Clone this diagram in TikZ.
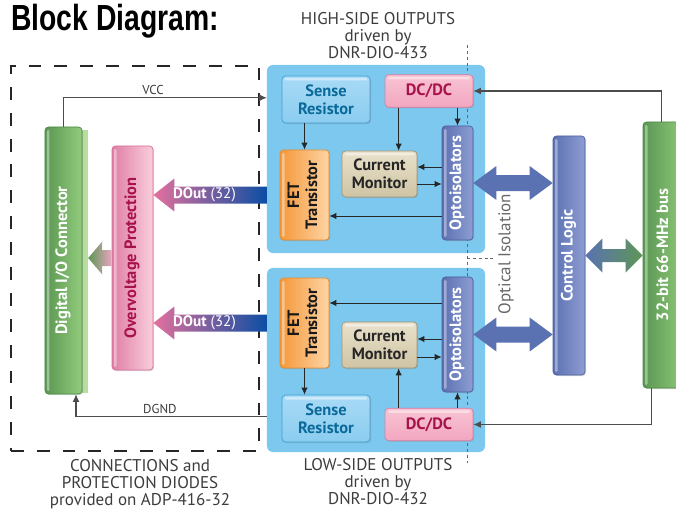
\documentclass[tikz,border=0pt]{standalone}
\usepackage{fontspec}
\setmainfont{PT Sans}
\newfontfamily\titlefont[FakeStretch=0.78]{Liberation Sans}
\usetikzlibrary{arrows.meta,calc,shadows}

\definecolor{panelblue}{HTML}{7CC8EE}
\definecolor{sensetop}{HTML}{A8DBF6}
\definecolor{sensebot}{HTML}{8BCCEF}
\definecolor{senseedge}{HTML}{3E9FD6}
\definecolor{sensetext}{HTML}{0A6A9A}
\definecolor{dctop}{HTML}{F8C4D4}
\definecolor{dcbot}{HTML}{F2A6BF}
\definecolor{dcedge}{HTML}{DD7C9E}
\definecolor{crimson}{HTML}{A8124A}
\definecolor{fetleft}{HTML}{F5983A}
\definecolor{fetright}{HTML}{FDD4A4}
\definecolor{fetedge}{HTML}{E48B2F}
\definecolor{cmtop}{HTML}{E9E1CB}
\definecolor{cmbot}{HTML}{CFC4A4}
\definecolor{cmedge}{HTML}{9F9475}
\definecolor{optoleft}{HTML}{5C70B2}
\definecolor{optoright}{HTML}{8E9ED2}
\definecolor{optoedge}{HTML}{4B5F9F}
\definecolor{busleft}{HTML}{5A9752}
\definecolor{busright}{HTML}{92CB7C}
\definecolor{busedge}{HTML}{4E8A48}
\definecolor{stripgreen}{HTML}{B7DE9E}
\definecolor{ovpleft}{HTML}{E07FA6}
\definecolor{ovpright}{HTML}{F9CEDC}
\definecolor{ovpedge}{HTML}{D77098}
\definecolor{fatblue}{HTML}{5A72B2}
\definecolor{fatgreen}{HTML}{5E9656}
\definecolor{doutpink}{HTML}{E4709D}
\definecolor{doutblue}{HTML}{0B4EA3}
\definecolor{labelgray}{HTML}{3C3C3C}

% block arrows: tip on the left
\newcommand{\fatarrow}[7]{%
  \shade[left color=#6, right color=#7] (#1) -- ($(#1)+(#3,-#4)$) -- ($(#1)+(#3,-#5)$)
    -- ($(#2)+(0,-#5)$) -- ($(#2)+(0,#5)$) -- ($(#1)+(#3,#5)$) -- ($(#1)+(#3,#4)$) -- cycle;}
% block arrows with two tips
\newcommand{\dblarrow}[7]{%
  \shade[left color=#6, right color=#7] (#1) -- ($(#1)+(#3,-#4)$) -- ($(#1)+(#3,-#5)$)
    -- ($(#2)+(-#3,-#5)$) -- ($(#2)+(-#3,-#4)$) -- (#2) -- ($(#2)+(-#3,#4)$)
    -- ($(#2)+(-#3,#5)$) -- ($(#1)+(#3,#5)$) -- ($(#1)+(#3,#4)$) -- cycle;}
\newcommand{\vtext}[1]{\rotatebox{90}{\begin{tabular}{@{}c@{}}#1\end{tabular}}}

\tikzset{
  blk/.style={rounded corners=3pt, inner sep=0pt, line width=0.6pt, align=center,
    font=\fontsize{14}{15.5}\selectfont\bfseries,
    drop shadow={shadow xshift=0.9pt, shadow yshift=-0.9pt, opacity=0.3}},
  glossh/.style={path picture={\fill[white, opacity=0.45, rounded corners=1pt]
    ($(path picture bounding box.north west)+(3,2)$) rectangle ($(path picture bounding box.north east)+(-3,4.5)$);}},
  glossv/.style={path picture={\fill[white, opacity=0.4, rounded corners=1pt]
    ($(path picture bounding box.north west)+(2,3)$) rectangle ($(path picture bounding box.south west)+(4.5,-3)$);}},
  panel/.style={fill=panelblue, rounded corners=5pt, inner sep=0pt},
  sense/.style={blk, glossh, draw=senseedge, top color=sensetop, bottom color=sensebot, text=sensetext,
    minimum width=2.64cm, minimum height=1.41cm},
  dcdc/.style={blk, glossh, draw=dcedge, top color=dctop, bottom color=dcbot, text=crimson,
    minimum width=2.64cm, minimum height=0.97cm},
  fet/.style={blk, glossv, draw=fetedge, left color=fetleft, right color=fetright, text=black!90,
    minimum width=1.47cm, minimum height=2.7cm},
  monitor/.style={blk, glossh, draw=cmedge, top color=cmtop, bottom color=cmbot, text=black!85,
    minimum width=2.25cm, minimum height=1.38cm},
  opto/.style={blk, glossv, draw=optoedge, left color=optoleft, right color=optoright, text=white},
  greenbar/.style={blk, glossv, draw=busedge, left color=busleft, right color=busright, text=white},
  ovp/.style={blk, glossv, draw=ovpedge, left color=ovpleft, right color=ovpright, text=crimson},
  frame/.style={draw=black!85, line width=1.7pt, dash pattern=on 11pt off 11pt, inner sep=0pt},
  isoline/.style={draw=black!60, line width=0.6pt, dash pattern=on 2.5pt off 2.5pt},
  arr/.style={draw=black!85, line width=0.8pt, -{Latex[length=6pt,width=5.5pt]}},
  wire/.style={draw=black!70, line width=0.9pt, -{Latex[length=6.5pt,width=6pt]}},
  lbl/.style={text=labelgray, align=center, font=\fontsize{14.5}{14.5}\selectfont},
  lbls/.style={text=labelgray, font=\fontsize{11}{12}\selectfont, inner sep=2pt},
  doutlbl/.style={text=white, font=\fontsize{13}{14}\selectfont}
}

\begin{document}
\begin{tikzpicture}[x=0.03cm, y=-0.03cm]
\useasboundingbox (0,0) rectangle (676,510);

\node[anchor=base west, font=\titlefont\fontsize{31}{31}\selectfont\bfseries] (title) at (7,31) {Block Diagram:};

% the two output stages
\node[panel, minimum width=6.54cm, minimum height=5.64cm] (panel1) at (376,159) {};
\node[panel, minimum width=6.54cm, minimum height=5.52cm] (panel2) at (376,360) {};
\draw[isoline] (467,45) -- (467,463) (467,258) -- (493,258);

\node[frame, minimum width=7.44cm, minimum height=11.55cm] (board) at (135,258.5) {};

% high side
\node[sense] (sense1) at (326,99.5) {Sense\\Resistor};
\node[dcdc] (dc1) at (429,91) {DC/DC};
\node[fet] (fet1) at (304.5,195) {\vtext{FET\\Transistor}};
\node[monitor] (cm1) at (379.5,174) {Current\\Monitor};
\node[opto, minimum width=0.93cm, minimum height=3.42cm] (opto1) at (457.5,183) {\vtext{Optoisolators}};

% low side
\node[fet] (fet2) at (304.5,323) {\vtext{FET\\Transistor}};
\node[monitor] (cm2) at (379.5,345) {Current\\Monitor};
\node[opto, minimum width=0.93cm, minimum height=3.45cm] (opto2) at (457.5,334.5) {\vtext{Optoisolators}};
\node[sense] (sense2) at (326,418.5) {Sense\\Resistor};
\node[dcdc] (dc2) at (429,424.5) {DC/DC};

% logic and bus
\node[opto, minimum width=0.96cm, minimum height=7.17cm] (ctrl) at (569,255.5) {\vtext{Control Logic}};
\node[greenbar, minimum width=1.29cm, minimum height=7.98cm] (bus) at (664.5,255) {\vtext{32-bit 66-MHz bus}};

% connector side
\node[fill=stripgreen, minimum width=0.18cm, minimum height=7.89cm, inner sep=0pt] (connedge) at (85,261.5) {};
\node[greenbar, minimum width=1.11cm, minimum height=8.01cm] (conn1) at (63.5,260.5) {\vtext{Digital I/O Connector}};
\node[ovp, minimum width=1.23cm, minimum height=6.72cm] (ovp1) at (132.5,258) {\vtext{Overvoltage Protection}};

% signal arrows, high side
\draw[arr] (fet1.north |- sense1.south) -- (fet1.north);
\draw[arr] ($(dc1.south west)+(14,0)$) coordinate (q1) -- (q1 |- cm1.north);
\draw[arr] (opto1.north |- dc1.south) -- (opto1.north);
\draw[arr] ($(opto1.west)+(0,-16)$) coordinate (q2) -- (q2 -| cm1.east);
\draw[arr] ($(cm1.east)+(0,10)$) coordinate (q3) -- (q3 -| opto1.west);
\draw[arr] ($(opto1.west)+(0,33)$) coordinate (q4) -- (q4 -| fet1.east);

% signal arrows, low side
\draw[arr] ($(opto2.west)+(0,-31.5)$) coordinate (r1) -- (r1 -| fet2.east);
\draw[arr] ($(opto2.west)+(0,4.5)$) coordinate (r2) -- (r2 -| cm2.east);
\draw[arr] ($(cm2.east)+(0,12)$) coordinate (r3) -- (r3 -| opto2.west);
\draw[arr] ($(dc2.north west)+(14,0)$) coordinate (r4) -- (r4 |- cm2.south);
\draw[arr] (opto2.south |- dc2.north) -- (opto2.south);
\draw[arr] (fet2.south) -- (fet2.south |- sense2.north);

% supply lines
\draw[wire] (conn1.north) |- ($(panel1.north west)+(0,33)$) node[pos=0.72, above, lbls] {VCC};
\draw[wire] ($(panel2.south west)+(0,-36)$) -| ($(conn1.south)+(12.5,0)$) node[pos=0.28, above, lbls] {DGND};
\draw[wire] ($(bus.north west)+(19,0)$) |- (dc1.east);
\draw[wire] ($(bus.south west)+(9,0)$) |- (dc2.east);

% block arrows
\coordinate (dout1) at (ovp1.east |- fet1.west);
\coordinate (dout1end) at (panel1.west |- fet1.west);
\coordinate (dout2) at (ovp1.east |- fet2.west);
\coordinate (dout2end) at (panel2.west |- fet2.west);
\fatarrow{dout1}{dout1end}{21}{16.5}{8.5}{doutpink}{doutblue}
\fatarrow{dout2}{dout2end}{21}{16.5}{8.5}{doutpink}{doutblue}
\node[doutlbl] (dlbl1) at ($(dout1)!0.45!(dout1end)$) {\textbf{DOut} (32)};
\node[doutlbl] (dlbl2) at ($(dout2)!0.45!(dout2end)$) {\textbf{DOut} (32)};

\coordinate (prot) at (connedge.east |- ovp1.west);
\fatarrow{prot}{ovp1.west}{14}{16.5}{8}{busleft}{ovpleft!70}

\coordinate (iso1) at (ctrl.west |- opto1.east);
\coordinate (iso2) at (ctrl.west |- opto2.east);
\coordinate (busin) at (bus.west |- ctrl.east);
\dblarrow{opto1.east}{iso1}{23}{17}{8}{fatblue}{fatblue}
\dblarrow{opto2.east}{iso2}{23}{17}{8}{fatblue}{fatblue}
\dblarrow{ctrl.east}{busin}{17}{17}{6.5}{fatblue}{fatgreen}

% captions
\node[lbl] (hscap) at (378,36) {HIGH-SIDE OUTPUTS\\driven by\\DNR-DIO-433};
\node[lbl] (lscap) at (378,482) {LOW-SIDE OUTPUTS\\driven by\\DNR-DIO-432};
\node[lbl] (boardcap) at (140,484) {CONNECTIONS and\\PROTECTION DIODES\\provided on ADP-416-32};
\node[lbl, rotate=90, text=black!60] (isolab) at (506,254) {Optical Isolation};
\end{tikzpicture}
\end{document}
